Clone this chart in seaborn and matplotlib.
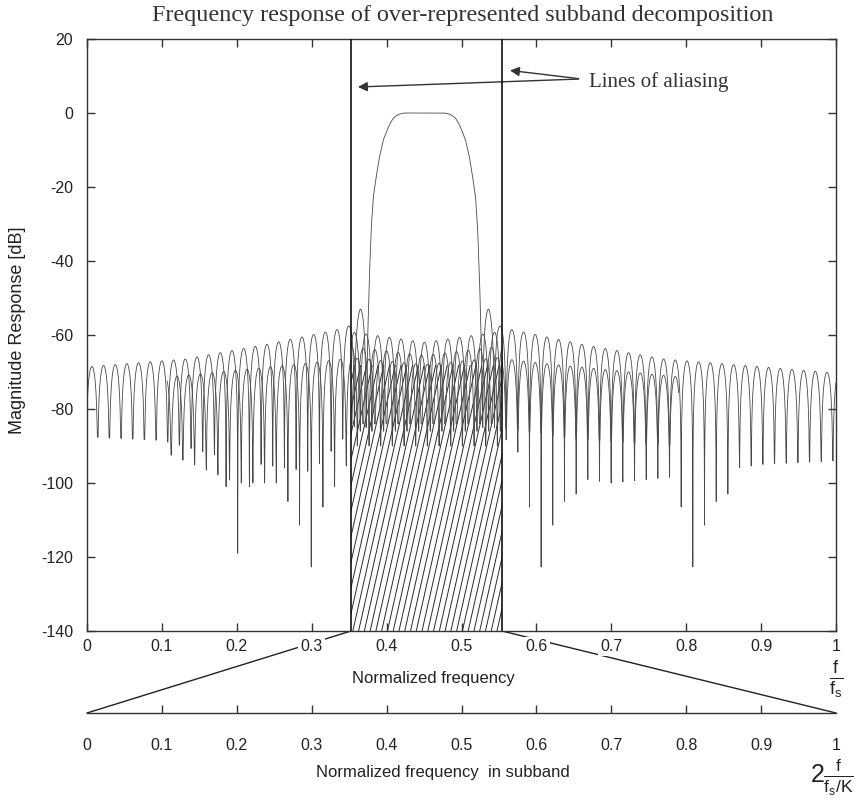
import numpy as np
import matplotlib
matplotlib.use("Agg")
import matplotlib.pyplot as plt
from matplotlib.collections import LineCollection
from matplotlib.patches import ConnectionPatch, Rectangle
import seaborn as sns


# values
centre = 0.4505          # centre of the subband filter
period = 0.01558         # spacing of the sidelobes
alias_lines = [0.3525, 0.554]

# passband of the analysis filter (distance from centre -> dB)
pass_dist = [0.0, 0.026, 0.030, 0.034, 0.038, 0.0415, 0.045, 0.049, 0.0549, 0.060,
             0.0637, 0.0682, 0.071, 0.0736, 0.0758, 0.0779]
pass_db = [0.0, 0.0, -0.1, -0.35, -0.8, -1.4, -2.5, -4.2, -7.3, -11.8,
           -16.3, -22.6, -31.0, -45.1, -61.0, -85.0]

# stopband lobes of the filter
upper_peak_dist = [0.0857, 0.100, 0.116, 0.210, 0.320, 0.450, 0.550]
upper_peak_db = [-53.0, -57.5, -58.5, -62.5, -66.5, -68.6, -70.3]
upper_null_f = [0.0, 0.10, 0.20, 0.30, 0.37, 0.53, 0.60, 0.70, 0.80, 0.90, 1.0]
upper_null_db = [-87.5, -88.5, -94.0, -97.0, -82.0, -82.0, -97.0, -100.0, -98.0, -95.0, -94.0]
upper_deep_f = [0.187, 0.2016, 0.218, 0.590, 0.606, 0.622, 0.637, 0.653,
                0.794, 0.809, 0.826, 0.841, 0.857]
upper_deep_db = [-101.0, -119.0, -101.0, -106.5, -122.7, -111.4, -105.0, -103.0,
                 -106.5, -122.7, -111.4, -105.0, -103.0]

# second (aliased) lobe train
lower_span = [0.107, 0.790]
lower_shift = [0.3, 0.0]     # phase of left / right half in lobe periods
lower_peak_dist = [0.11, 0.15, 0.20, 0.25, 0.35]
lower_peak_db = [-66.5, -67.5, -68.5, -69.5, -71.5]
lower_null_f = [0.107, 0.20, 0.30, 0.35, 0.55, 0.65, 0.79]
lower_null_db = [-92.0, -100.0, -100.0, -95.0, -85.0, -88.0, -90.0]
lower_deep_f = [0.270, 0.286, 0.3006, 0.316, 0.332]
lower_deep_db = [-105.0, -111.4, -122.7, -106.5, -101.0]

# overlapping aliased lobes inside the aliasing band
inner_shift = [0.5, 0.25, 0.75]
inner_edge_db = [-59.0, -63.0, -66.0]
inner_mid_db = [-62.0, -65.5, -68.0]
inner_null_db = [-86.0, -90.0, -84.0]
hatch_top = -68.0

x_ticks = [0, 0.1, 0.2, 0.3, 0.4, 0.5, 0.6, 0.7, 0.8, 0.9, 1]
x_labels = ["0", "0.1", "0.2", "0.3", "0.4", "0.5", "0.6", "0.7", "0.8", "0.9", "1"]
y_ticks = [20, 0, -20, -40, -60, -80, -100, -120, -140]


def lobes(f, origin, peak_db, null_f, null_db, deep_f=(), deep_db=()):
    phase = (f - origin) / period
    k = np.round(phase)
    shape = 20 * np.log10(np.maximum(np.abs(np.sin(np.pi * phase)), 1e-9))
    floor = np.interp(origin + k * period, null_f, null_db)
    for fd, dd in zip(deep_f, deep_db):
        floor[k == np.round((fd - origin) / period)] = dd
    return np.maximum(peak_db + shape, floor)


# frequency grid, with every null placed exactly on it
origins = [centre, centre + lower_shift[0] * period] + [centre + s * period for s in inner_shift]
nulls = np.concatenate([o + np.arange(-80, 81) * period for o in origins])
freq = np.union1d(np.linspace(0, 1, 16001), nulls[(nulls >= 0) & (nulls <= 1)])
dist = np.abs(freq - centre)

# main filter: passband + stopband lobes
stop = lobes(freq, centre, np.interp(dist, upper_peak_dist, upper_peak_db),
             upper_null_f, upper_null_db, upper_deep_f, upper_deep_db)
main_db = np.where(dist < 5 * period, np.interp(dist, pass_dist, pass_db), stop)

sns.set_theme(style="ticks")
plt.rcParams["font.family"] = ["Liberation Sans", "DejaVu Sans"]
plt.rcParams["mathtext.fontset"] = "custom"
plt.rcParams["mathtext.rm"] = "Liberation Sans"
plt.rcParams["mathtext.it"] = "Liberation Sans"

fig = plt.figure(figsize=(8.65, 8.0), dpi=100)
fig.patch.set_facecolor("white")
W, H = 865, 800
ax = fig.add_axes([87 / W, 1 - 631 / H, 749 / W, 592 / H])
ax.set_facecolor("white")

curve_kw = dict(color="#484848", linewidth=0.6, estimator=None, sort=False, errorbar=None)

# hatching inside the aliasing band
hx = np.arange(alias_lines[0] - 0.09, alias_lines[1] + 0.01, 0.0077)
segs = [[(x0, -140), (x0 + 0.08, hatch_top)] for x0 in hx]
hatch = LineCollection(segs, colors="#2a2a2a", linewidths=0.7, zorder=1)
ax.add_collection(hatch)
hatch.set_clip_path(Rectangle((alias_lines[0], -140), alias_lines[1] - alias_lines[0],
                              hatch_top + 140, transform=ax.transData))

# inner aliased lobes
band = (freq >= alias_lines[0]) & (freq <= alias_lines[1])
fb = freq[band]
for s, e_db, m_db, n_db in zip(inner_shift, inner_edge_db, inner_mid_db, inner_null_db):
    env = np.interp(np.abs(fb - centre), [0, alias_lines[1] - centre], [m_db, e_db])
    yb = lobes(fb, centre + s * period, env, [0, 1], [n_db, n_db])
    sns.lineplot(x=fb, y=yb, ax=ax, **curve_kw)

# second lobe train, left and right half
halves = [(freq >= lower_span[0]) & (freq <= alias_lines[0]),
          (freq >= alias_lines[1]) & (freq <= lower_span[1])]
for sel, s in zip(halves, lower_shift):
    fl = freq[sel]
    yl = lobes(fl, centre + s * period, np.interp(np.abs(fl - centre), lower_peak_dist, lower_peak_db),
               lower_null_f, lower_null_db, lower_deep_f, lower_deep_db)
    sns.lineplot(x=fl, y=yl, ax=ax, **curve_kw)

sns.lineplot(x=freq, y=main_db, ax=ax, **curve_kw)

for xl in alias_lines:
    ax.axvline(xl, color="#111111", linewidth=1.2, zorder=4)

ax.set_xlim(0, 1)
ax.set_ylim(-140, 20)
ax.set_xticks(x_ticks)
ax.set_xticklabels(x_labels)
ax.set_yticks(y_ticks)
ax.set_yticklabels([str(v) for v in y_ticks])
ax.tick_params(direction="in", length=6, width=1, color="#333333", top=True, right=True,
               labelsize=11.5, labelcolor="#222222")
ax.tick_params(axis="x", pad=6)
ax.tick_params(axis="y", pad=10)
for sp in ax.spines.values():
    sp.set_color("#333333")
    sp.set_linewidth(1.0)
ax.set_xlabel("")
ax.set_ylabel("")
for lbl in ax.get_xticklabels():
    lbl.set_bbox(dict(facecolor="white", edgecolor="none", pad=1.5))

# subband axis
ax2 = fig.add_axes([87 / W, 1 - 713 / H, 749 / W, 0.0005])
ax2.set_xlim(0, 1)
ax2.set_ylim(0, 1)
ax2.set_yticks([])
for side in ["left", "right", "top"]:
    ax2.spines[side].set_visible(False)
ax2.spines["bottom"].set_color("#333333")
ax2.spines["bottom"].set_linewidth(1.0)
ax2.set_xticks(x_ticks)
ax2.set_xticklabels(x_labels)
ax2.tick_params(axis="x", direction="in", length=6, width=1, color="#333333",
                labelsize=11.5, labelcolor="#222222", pad=18)
ticks2 = ax2.xaxis.get_major_ticks()
ticks2[0].tick1line.set_visible(False)
ticks2[-1].tick1line.set_visible(False)

for xa, xb in zip(alias_lines, [0, 1]):
    con = ConnectionPatch(xyA=(xa, -140), coordsA=ax.transData, xyB=(xb, 0), coordsB=ax2.transData,
                          color="#222222", linewidth=1.0, zorder=-1)
    fig.add_artist(con)

# annotation
ax.annotate("", xy=(0.358, 7.0), xytext=(0.66, 9.2),
            arrowprops=dict(arrowstyle="-|>", color="#333333", lw=1.0, mutation_scale=14))
ax.annotate("", xy=(0.561, 11.6), xytext=(0.66, 9.2),
            arrowprops=dict(arrowstyle="-|>", color="#333333", lw=1.0, mutation_scale=14))
ax.text(0.670, 8.3, "Lines of aliasing", family="Liberation Serif", fontsize=15,
        color="#333333", va="center", ha="left")

fig.text(463 / W, 1 - 15 / H, "Frequency response of over-represented subband decomposition",
         family="Liberation Serif", fontsize=17.4, color="#333333", ha="center", va="center")
fig.text(18 / W, 1 - 330 / H, "Magnitude Response [dB]", rotation=90, fontsize=13,
         color="#222222", ha="center", va="center")
fig.text(433 / W, 1 - 678 / H, "Normalized frequency", fontsize=12, color="#222222",
         ha="center", va="center")
fig.text(443 / W, 1 - 773 / H, "Normalized frequency  in subband", fontsize=12, color="#222222",
         ha="center", va="center")
fig.text(836 / W, 1 - 679 / H, r"$\frac{f}{f_\mathrm{s}}$", fontsize=19, color="#222222",
         ha="center", va="center")
fig.text(832 / W, 1 - 777 / H, r"$2\frac{f}{f_\mathrm{s}/K}$", fontsize=18, color="#222222",
         ha="center", va="center")

fig.savefig("out.png", dpi=100, facecolor="white")
